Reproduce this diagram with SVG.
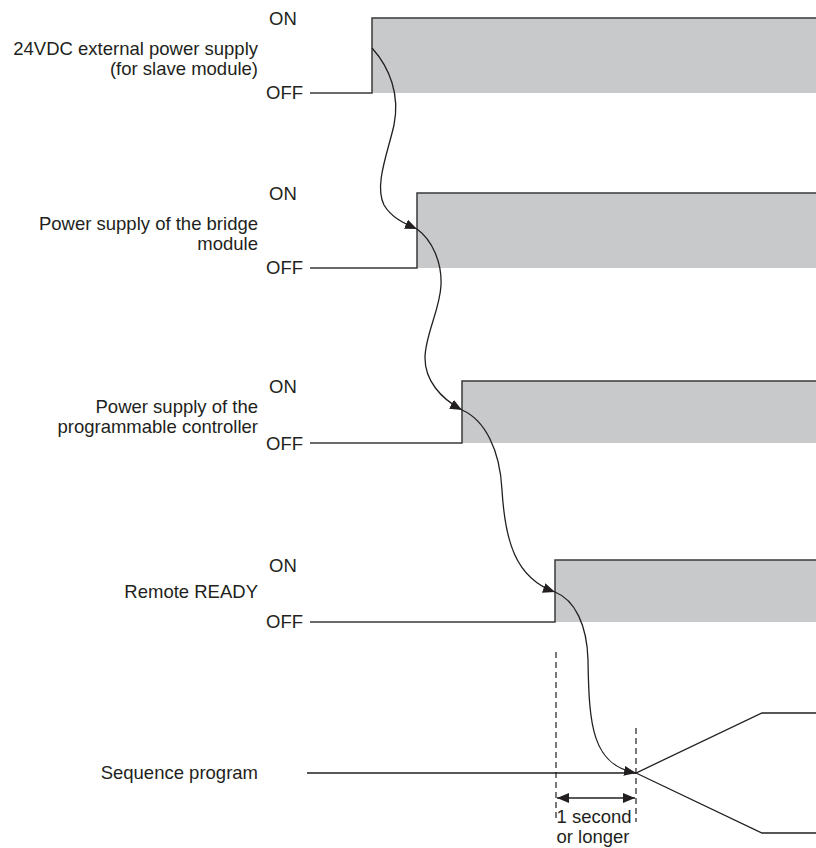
<svg xmlns="http://www.w3.org/2000/svg" width="816" height="848" viewBox="0 0 816 848">
<defs>
<style>
text{font-family:"Liberation Sans",Arial,sans-serif;font-size:18.5px;fill:#231f20}
.lbl{text-anchor:end}
.st{text-anchor:start}
.mid{text-anchor:middle}
.fill{fill:#c8c9cb;stroke:none}
.sig{fill:none;stroke:#3a3a3a;stroke-width:1.5}
.cur{fill:none;stroke:#231f20;stroke-width:1.3}
.dash{fill:none;stroke:#231f20;stroke-width:1.2;stroke-dasharray:6 4}
</style>
<marker id="ah" viewBox="0 0 12 10" refX="12" refY="5" markerWidth="12" markerHeight="10" markerUnits="userSpaceOnUse" orient="auto">
<path d="M0,0 L12,5 L0,10 Z" fill="#231f20"/>
</marker>
<marker id="ahs" viewBox="0 0 12 10" refX="0" refY="5" markerWidth="12" markerHeight="10" markerUnits="userSpaceOnUse" orient="auto">
<path d="M12,0 L0,5 L12,10 Z" fill="#231f20"/>
</marker>
</defs>
<rect width="816" height="848" fill="#ffffff"/>

<g id="sig-24vdc">
<rect class="fill" x="372" y="18" width="444" height="75"/>
<path class="sig" d="M310,93 H372 V18 H816"/>
<text x="269" y="25" class="st">ON</text>
<text x="258" y="55" class="lbl">24VDC external power supply</text>
<text x="258" y="75" class="lbl">(for slave module)</text>
<text x="266" y="99" class="st">OFF</text>
</g>

<g id="sig-bridge">
<rect class="fill" x="417" y="193" width="399" height="75"/>
<path class="sig" d="M310,268 H417 V193 H816"/>
<text x="269" y="200" class="st">ON</text>
<text x="258" y="230" class="lbl">Power supply of the bridge</text>
<text x="258" y="250" class="lbl">module</text>
<text x="266" y="274" class="st">OFF</text>
</g>

<g id="sig-plc">
<rect class="fill" x="462" y="381" width="354" height="62"/>
<path class="sig" d="M310,443 H462 V381 H816"/>
<text x="269" y="393" class="st">ON</text>
<text x="258" y="413" class="lbl">Power supply of the</text>
<text x="258" y="433" class="lbl">programmable controller</text>
<text x="266" y="450" class="st">OFF</text>
</g>

<g id="sig-ready">
<rect class="fill" x="555" y="560" width="261" height="62"/>
<path class="sig" d="M310,622 H555 V560 H816"/>
<text x="269" y="572" class="st">ON</text>
<text x="258" y="598" class="lbl">Remote READY</text>
<text x="266" y="628" class="st">OFF</text>
</g>

<g id="sig-seq">
<path class="cur" d="M307,773 H636 L762,713 H816 M636,773 L762,833 H816"/>
<text x="258" y="779" class="lbl">Sequence program</text>
</g>

<g id="timing">
<line class="dash" x1="556" y1="652" x2="556" y2="822"/>
<line class="dash" x1="636" y1="728" x2="636" y2="822"/>
<line class="cur" x1="557" y1="798" x2="635" y2="798" marker-start="url(#ahs)" marker-end="url(#ah)"/>
<text x="594" y="823" class="mid">1 second</text>
<text x="593" y="843" class="mid">or longer</text>
</g>

<g id="connectors">
<path class="cur" d="M372,48 C390,68 400,95 394,125 C388,152 374,185 384,205 C391,217 403,223 417,229" marker-end="url(#ah)"/>
<path class="cur" d="M417,229 C432,240 442,262 441,285 C440,310 425,335 425,358 C425,380 440,398 462,410" marker-end="url(#ah)"/>
<path class="cur" d="M462,410 C485,420 500,450 502,490 C505,540 515,578 555,592" marker-end="url(#ah)"/>
<path class="cur" d="M555,592 C575,600 587,625 588,660 C589,725 592,765 636,773" marker-end="url(#ah)"/>
</g>
</svg>
